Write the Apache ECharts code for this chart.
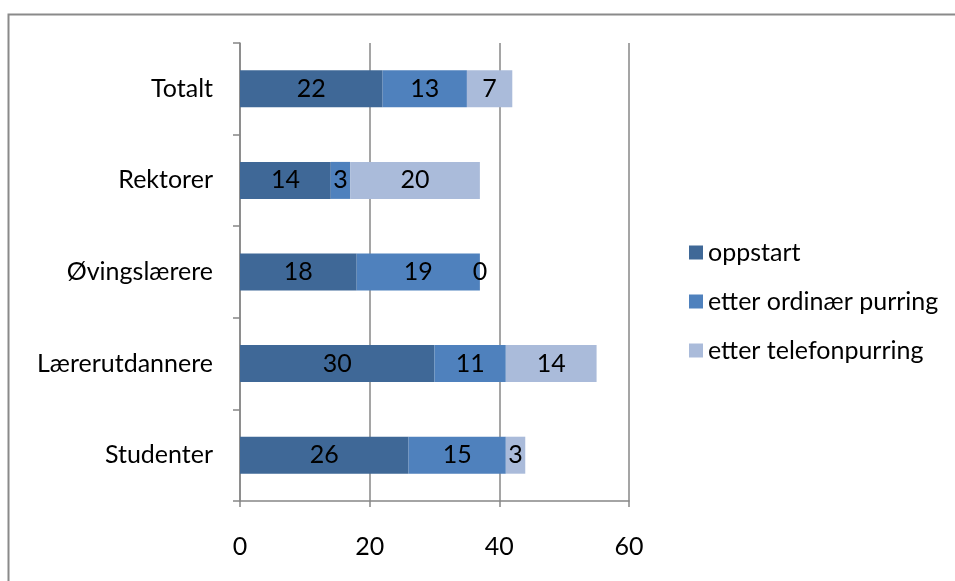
<!DOCTYPE html>
<html>
<head>
<meta charset="utf-8">
<script src="https://cdn.jsdelivr.net/npm/echarts@6/dist/echarts.min.js"></script>
<style>
  html, body { margin: 0; padding: 0; background: #fff; }
  #chart { width: 955px; height: 581px; }
</style>
</head>
<body>
<div id="chart"></div>
<script>
// Groups, listed bottom to top as the category axis draws them
const categories = ['Studenter', 'Lærerutdannere', 'Øvingslærere', 'Rektorer', 'Totalt'];
const seriesNames = ['oppstart', 'etter ordinær purring', 'etter telefonpurring'];
const oppstart = [26, 30, 18, 14, 22];
const ordinaerPurring = [15, 11, 19, 3, 13];
const telefonPurring = [3, 14, 0, 20, 7];
const xTicks = [0, 20, 40, 60];

const colors = ['#3f6897', '#4f81bd', '#aabbda'];
const font = 'Lato, "Open Sans", sans-serif';
const axisGray = '#878787';
const textSize = 25;

const chart = echarts.init(document.getElementById('chart'), null, { renderer: 'canvas' });

const values = [oppstart, ordinaerPurring, telefonPurring];

chart.setOption({
  animation: false,
  textStyle: { fontFamily: font },
  graphic: [{
    type: 'rect',
    shape: { x: 8.5, y: 14.5, width: 1200, height: 1200 },
    style: { fill: 'none', stroke: '#8a8a8a', lineWidth: 2 },
    silent: true
  }],
  grid: { left: 240, right: 326, top: 43, bottom: 80, containLabel: false },
  legend: {
    orient: 'vertical',
    left: 684,
    top: 235,
    itemWidth: 14,
    itemHeight: 14,
    itemGap: 24,
    icon: 'rect',
    textStyle: { fontSize: textSize, color: '#000', fontFamily: font },
    data: seriesNames
  },
  xAxis: {
    type: 'value',
    min: xTicks[0],
    max: xTicks[xTicks.length - 1],
    interval: 20,
    axisLine: { show: true, lineStyle: { color: axisGray, width: 1.5 } },
    axisTick: { show: true, length: 6, lineStyle: { color: axisGray, width: 1.5 } },
    splitLine: { show: true, lineStyle: { color: axisGray, width: 1.5 } },
    axisLabel: { fontSize: textSize, color: '#000', margin: 33, fontFamily: font }
  },
  yAxis: {
    type: 'category',
    data: categories,
    axisLine: { show: true, lineStyle: { color: axisGray, width: 1.5 } },
    axisTick: { show: true, length: 7, lineStyle: { color: axisGray, width: 1.5 } },
    axisLabel: { fontSize: textSize, color: '#000', margin: 27, fontFamily: font }
  },
  series: seriesNames.map((name, i) => ({
    name,
    type: 'bar',
    stack: 'total',
    barWidth: 37,
    data: values[i],
    itemStyle: { color: colors[i] },
    label: {
      show: true,
      position: 'inside',
      color: '#000',
      fontSize: textSize,
      fontFamily: font
    }
  }))
});
</script>
</body>
</html>
